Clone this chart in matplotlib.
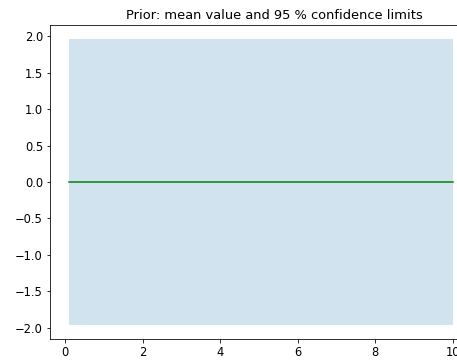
import matplotlib
matplotlib.use("Agg")
import matplotlib.pyplot as plt

# prior of the process: zero mean, unit std
x_points = [0.1, 10.0]
mean_values = [0.0, 0.0]
lower_limits = [-1.96, -1.96]
upper_limits = [1.96, 1.96]

W, H = 457, 360
fig = plt.figure(figsize=(W / 72, H / 72), dpi=72)
ax = fig.add_axes([50 / W, (H - 339.3) / H, 422 / W, (339.3 - 24.7) / H])

ax.fill_between(x_points, lower_limits, upper_limits, alpha=0.2)
ax.plot(x_points, mean_values, color='g')
ax.set_title('Prior: mean value and 95 % confidence limits', fontsize=13,
             x=(274 - 50) / 422)
ax.tick_params(labelsize=11.5)

fig.savefig('out.png', dpi=72)
